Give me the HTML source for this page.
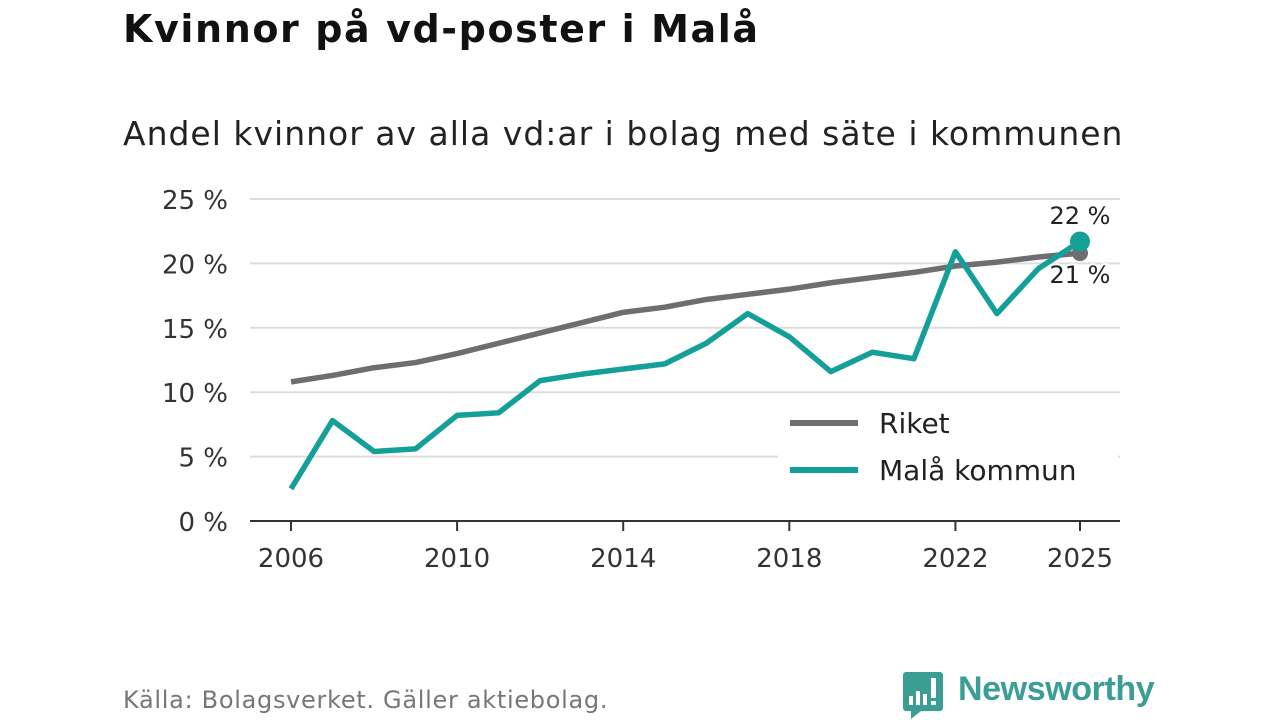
<!DOCTYPE html>
<html><head><meta charset="utf-8">
<style>
body{margin:0;width:1280px;height:720px;background:#fff;font-family:"DejaVu Sans","Liberation Sans",sans-serif;overflow:hidden;position:relative}
.t{position:absolute;white-space:nowrap}
</style></head><body>
<div class="t" style="left:123px;top:7px;font-size:38px;font-weight:bold;color:#111;letter-spacing:1.6px">Kvinnor på vd-poster i Malå</div>
<div class="t" style="left:123px;top:114px;font-size:33px;color:#222;letter-spacing:1px">Andel kvinnor av alla vd:ar i bolag med säte i kommunen</div>
<svg id="c" width="1280" height="720" style="position:absolute;left:0;top:0"></svg>
<div class="t" style="left:123px;top:686px;font-size:24px;color:#777;letter-spacing:0.7px">Källa: Bolagsverket. Gäller aktiebolag.</div>
<svg style="position:absolute;left:903px;top:672px" width="40" height="48">
<path d="M3 0h34a3 3 0 0 1 3 3v33a3 3 0 0 1-3 3H18l-10 8v-8H3a3 3 0 0 1-3-3V3a3 3 0 0 1 3-3z" fill="#3a9e94"/>
<rect x="6" y="24" width="4" height="9" fill="#fff"/><rect x="13" y="19" width="4" height="14" fill="#fff"/><rect x="20" y="22" width="4" height="11" fill="#fff"/><rect x="28" y="6" width="5" height="20" fill="#fff"/><rect x="28" y="29" width="5" height="4" fill="#fff"/>
</svg>
<div class="t" style="left:958px;top:670px;font-size:34px;font-weight:bold;color:#3a9e94;font-family:'Liberation Sans',sans-serif;letter-spacing:-0.4px">Newsworthy</div>
<script>
const years=[2006,2007,2008,2009,2010,2011,2012,2013,2014,2015,2016,2017,2018,2019,2020,2021,2022,2023,2024,2025];
const riket=[10.8,11.3,11.9,12.3,13.0,13.8,14.6,15.4,16.2,16.6,17.2,17.6,18.0,18.5,18.9,19.3,19.8,20.1,20.5,20.8];
const mala=[2.5,7.8,5.4,5.6,8.2,8.4,10.9,11.4,11.8,12.2,13.8,16.1,14.3,11.6,13.1,12.6,20.9,16.1,19.6,21.7];
const yTicks=[0,5,10,15,20,25];
const xTicks=[2006,2010,2014,2018,2022,2025];
const svg=document.getElementById('c');const NS='http://www.w3.org/2000/svg';
const x=v=>291+(v-2006)*(1080-291)/19;
const y=v=>521-v*(521-199)/25;
function el(t,a,p){const e=document.createElementNS(NS,t);for(const k in a)e.setAttribute(k,a[k]);(p||svg).appendChild(e);return e;}
yTicks.forEach(v=>{
 if(v>0){const g=el('line',{x1:250,x2:1120,y1:y(v),y2:y(v),stroke:'#ddd','stroke-width':2});
 
 }
 const t=el('text',{x:228,y:y(v)+10,'text-anchor':'end','font-size':26,fill:'#333'});t.textContent=v+' %';
 
 
});
const ax=el('line',{x1:250,x2:1120,y1:521,y2:521,stroke:'#333','stroke-width':2});


xTicks.forEach(v=>{
 el('line',{x1:x(v),x2:x(v),y1:521,y2:531,stroke:'#333','stroke-width':2});
 const t=el('text',{x:x(v),y:567,'text-anchor':'middle','font-size':26,fill:'#333'});t.textContent=v;
 
 
});
function line(d,c,n){const p=el('polyline',{points:d.map((v,i)=>x(years[i])+','+y(v)).join(' '),fill:'none',stroke:c,'stroke-width':5.5,'stroke-linejoin':'round'});
 
 }
line(riket,'#6e6d72','line-riket');
const d1=el('circle',{cx:x(2025),cy:y(riket[19]),r:8,fill:'#6e6d72'});


const lb2=el('rect',{x:778,y:400,width:340,height:92,fill:'#fff'});


line(mala,'#14a099','line-mala');
const d2=el('circle',{cx:x(2025),cy:y(mala[19]),r:10,fill:'#14a099'});


const l1=el('text',{x:1080,y:224,'text-anchor':'middle','font-size':24,fill:'#222'});l1.textContent=Math.round(mala[19])+' %';


const l2=el('text',{x:1080,y:283,'text-anchor':'middle','font-size':24,fill:'#222',stroke:'#fff','stroke-width':4,'paint-order':'stroke'});l2.textContent=Math.round(riket[19])+' %';


[['Riket','#6e6d72',423],['Malå kommun','#14a099',470]].forEach(([n,c,yy])=>{
 const g=el('g',{});
 
 
 el('line',{x1:790,x2:858,y1:yy,y2:yy,stroke:c,'stroke-width':6},g);
 const t=el('text',{x:879,y:yy+10,'font-size':28,fill:'#222'},g);t.textContent=n;
});
</script>
</body></html>
